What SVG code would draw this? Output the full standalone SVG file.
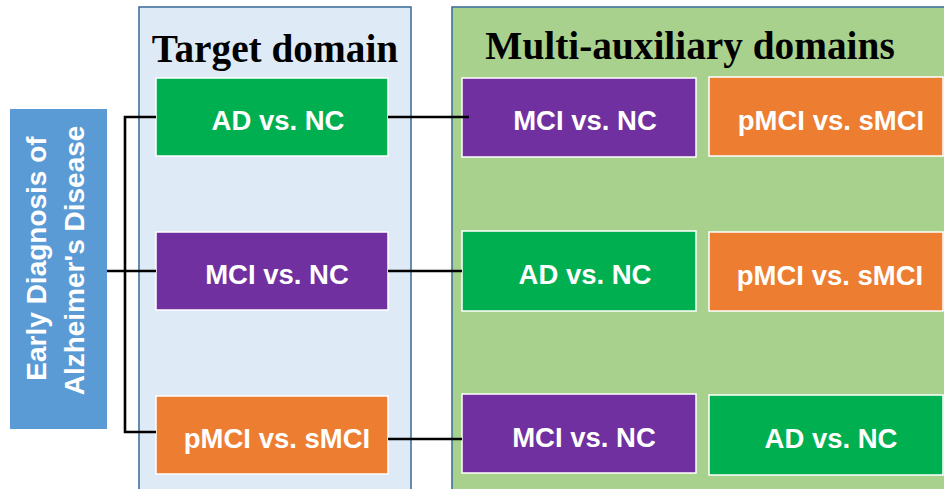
<svg xmlns="http://www.w3.org/2000/svg" width="944" height="489" viewBox="0 0 944 489">
<style>
.panel{stroke:#41719C;stroke-width:1.6}
.box{stroke:#FFFFFF;stroke-width:1.5}
.green{fill:#00B050}
.purple{fill:#7030A0}
.orange{fill:#ED7D31}
.lbl{font-family:"Liberation Sans",Arial,sans-serif;font-weight:bold;font-size:27.5px;fill:#FFFFFF;text-anchor:middle}
.vert{font-size:28px}
.title{font-family:"Liberation Serif","Times New Roman",serif;font-weight:bold;font-size:39.3px;fill:#000000;text-anchor:middle}
.conn{stroke:#000000;stroke-width:2.6;fill:none}
</style>
<rect width="944" height="489" fill="#FFFFFF"/>
<g id="target-panel">
<rect class="panel" x="139" y="7" width="272" height="490" fill="#DEEBF7"/>
<text class="title" x="275" y="62">Target domain</text>
</g>
<g id="aux-panel">
<rect class="panel" x="452" y="7" width="500" height="490" fill="#A9D18E"/>
<text class="title" x="690" y="59">Multi-auxiliary domains</text>
</g>
<g id="root">
<rect x="10" y="109" width="97" height="320" fill="#5B9BD5"/>
<text class="lbl vert" transform="translate(46,258.5) rotate(-90)">Early Diagnosis of</text>
<text class="lbl vert" transform="translate(84,260.5) rotate(-90)">Alzheimer's Disease</text>
</g>
<g id="t-ad">
<rect class="box green" x="156" y="78" width="232" height="78"/>
<text class="lbl" x="278" y="130">AD vs. NC</text>
</g>
<g id="t-mci">
<rect class="box purple" x="156" y="232" width="232" height="78"/>
<text class="lbl" x="277" y="284">MCI vs. NC</text>
</g>
<g id="t-pmci">
<rect class="box orange" x="156" y="396" width="232" height="78"/>
<text class="lbl" x="277" y="448">pMCI vs. sMCI</text>
</g>
<g id="a1-mci">
<rect class="box purple" x="462" y="78" width="234" height="79"/>
<text class="lbl" x="585" y="130">MCI vs. NC</text>
</g>
<g id="a1-pmci">
<rect class="box orange" x="709" y="77" width="234" height="79"/>
<text class="lbl" x="831" y="130">pMCI vs. sMCI</text>
</g>
<g id="a2-ad">
<rect class="box green" x="462" y="231" width="234" height="80"/>
<text class="lbl" x="585" y="284">AD vs. NC</text>
</g>
<g id="a2-pmci">
<rect class="box orange" x="709" y="232" width="234" height="79"/>
<text class="lbl" x="830" y="285">pMCI vs. sMCI</text>
</g>
<g id="a3-mci">
<rect class="box purple" x="462" y="394" width="234" height="79"/>
<text class="lbl" x="584" y="447">MCI vs. NC</text>
</g>
<g id="a3-ad">
<rect class="box green" x="709" y="395" width="234" height="80"/>
<text class="lbl" x="831" y="448">AD vs. NC</text>
</g>
<g id="connectors">
<path class="conn" d="M156,117 H125 V432 H156"/>
<path class="conn" d="M107,271 H156"/>
<path class="conn" d="M388,117 H469"/>
<path class="conn" d="M388,271 H462"/>
<path class="conn" d="M388,439 H462"/>
</g>
</svg>
